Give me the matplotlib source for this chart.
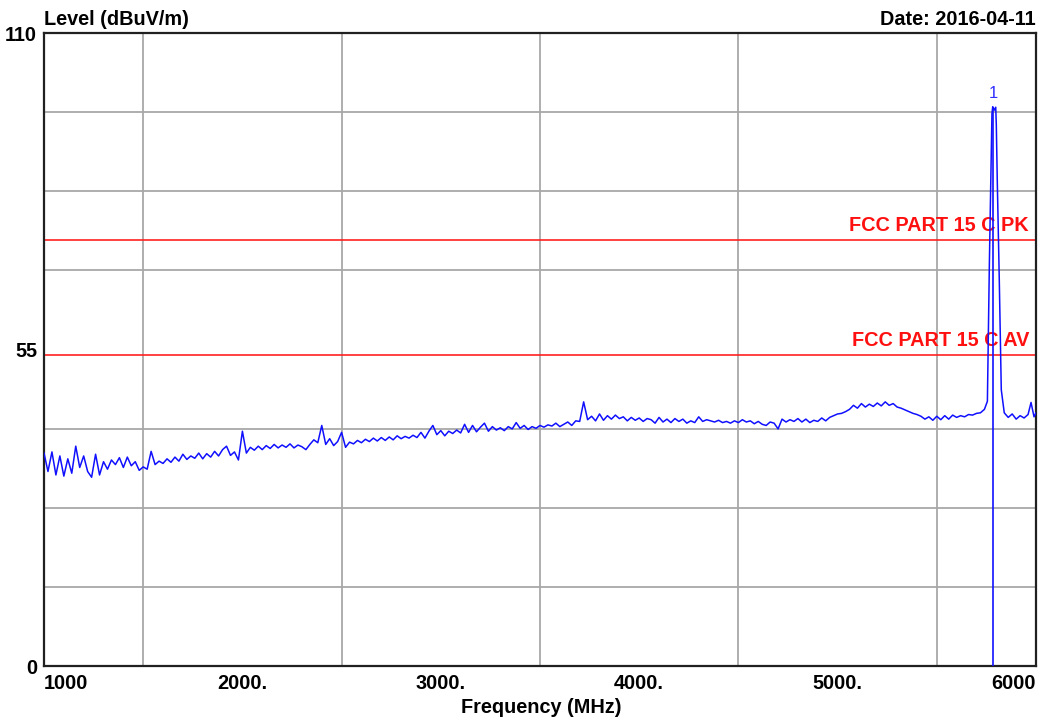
import numpy as np
import matplotlib
matplotlib.use("Agg")
import matplotlib.pyplot as plt

plt.rcParams['font.family'] = ['Liberation Sans', 'DejaVu Sans']

# ---- data ----
noise_f1 = list(range(1000, 5741, 20))
noise_l1 = [
    37.0, 33.8, 37.2, 33.2, 36.5, 33.0, 36.0, 33.5, 38.2, 34.5,
    36.5, 33.8, 32.8, 36.8, 33.2, 35.5, 34.2, 35.8, 35.0, 36.2,
    34.5, 36.3, 34.8, 35.5, 34.0, 34.6,
    34.2, 37.3, 35.0, 35.6, 35.2, 36.0, 35.4, 36.3, 35.6, 36.8,
    35.9, 36.5, 36.1, 37.0, 36.0, 36.9, 36.3, 37.3, 36.5, 37.6,
    38.2, 36.6, 37.2, 35.8, 40.8,
    37.0, 38.0, 37.5, 38.2, 37.6, 38.3, 37.8, 38.5, 37.9, 38.4,
    38.0, 38.6, 37.9, 38.4, 38.1, 37.6, 38.5, 39.3, 38.8, 41.8,
    38.5, 39.5, 38.3, 39.0, 40.6,
    38.0, 38.9, 38.6, 39.2, 38.8, 39.4, 39.0, 39.6, 39.1, 39.7,
    39.2, 39.8, 39.3, 40.0, 39.5, 39.9, 39.6, 40.1, 39.7, 40.6,
    39.6, 40.8, 41.8, 40.2, 40.9,
    40.0, 40.8, 40.4, 41.0, 40.5, 42.0, 40.6, 41.8, 40.7, 41.5,
    42.2, 40.8, 41.6, 41.0, 41.4, 40.9, 41.6, 41.2, 42.3, 41.3,
    41.8, 41.1, 41.6, 41.3, 41.8,
    41.5, 41.9, 41.7, 42.2, 41.6, 42.0, 42.4, 41.8, 42.6, 42.5,
    45.9, 42.8, 43.4, 42.6, 43.8, 42.7, 43.5, 42.9, 43.6, 43.0,
    43.3, 42.6, 43.2, 42.7, 43.1,
    42.5, 43.0, 42.8, 42.2, 43.2, 42.4, 42.9, 42.3, 43.0, 42.5,
    42.9, 42.2, 42.6, 42.3, 43.3, 42.5, 42.8, 42.6, 42.4, 42.7,
    42.3, 42.5, 42.2, 42.6, 42.3,
    42.8, 42.4, 42.6, 42.1, 42.5, 42.0, 41.8, 42.4, 42.2, 41.2,
    42.9, 42.4, 42.8, 42.5, 43.0, 42.4, 42.9, 42.3, 42.7, 42.5,
    43.1, 42.6, 43.2, 43.5, 43.8,
    43.9, 44.2, 44.6, 45.3, 44.8, 45.6, 45.0, 45.5, 45.1, 45.7,
    45.2, 45.9, 45.3, 45.6, 45.0, 44.8, 44.5, 44.2, 43.9, 43.7,
    43.4, 42.9, 43.3, 42.7, 43.4,
    42.8, 43.5, 42.9, 43.6, 43.2, 43.5, 43.3, 43.7, 43.6, 43.9,
    44.0, 44.6,
]
peak_f = [5755, 5765, 5772, 5778, 5782, 5790, 5797, 5800, 5805, 5815, 5825,
          5840, 5860, 5880, 5900, 5920, 5940, 5960, 5975, 5990, 6000]
peak_l = [46.0, 70.0, 84.5, 96.0, 97.2, 96.6, 97.1, 94.0, 84.0, 67.0, 48.0,
          44.0, 43.2, 43.8, 42.9, 43.5, 43.1, 43.7, 45.8, 43.3, 44.0]

limit_pk = 74.0
limit_av = 54.0
marker_f = 5785.0
marker_l = 97.2

x_ticks = [1000, 2000, 3000, 4000, 5000, 6000]
x_ticklabels = ["1000", "2000.", "3000.", "4000.", "5000.", "6000"]
y_ticks = [0, 55, 110]
y_ticklabels = ["0", "55", "110"]

freq = np.array(noise_f1 + peak_f, dtype=float)
level = np.array(noise_l1 + peak_l, dtype=float)

FS = 14.3

# ---- figure ----
fig = plt.figure(figsize=(10.56, 7.2), dpi=100)
ax = fig.add_axes([44 / 1056, 54 / 720, 992 / 1056, 633 / 720])
ax.set_xlim(1000, 6000)
ax.set_ylim(0, 110)

ax.set_xticks(np.arange(1000, 6001, 500), minor=True)
ax.set_yticks(np.arange(0, 110.01, 13.75), minor=True)
ax.grid(True, which='minor', color='#a8a8a8', lw=1.3, zorder=0)
ax.set_xticks(x_ticks)
ax.set_yticks(y_ticks)
ax.tick_params(which='both', length=0)
ax.set_xticklabels(x_ticklabels, fontsize=FS, fontweight='bold')
ax.set_yticklabels(y_ticklabels, fontsize=FS, fontweight='bold')
xl = ax.get_xticklabels()
xl[0].set_ha('left')
xl[-1].set_ha('right')
ax.tick_params(axis='x', pad=6)
ax.tick_params(axis='y', pad=5)

for s in ax.spines.values():
    s.set_linewidth(1.6)
    s.set_color('#202020')

ax.axhline(limit_pk, color='#ff2020', lw=1.2, zorder=2)
ax.axhline(limit_av, color='#ff2020', lw=1.2, zorder=2)
ax.text(5965, limit_pk + 0.9, "FCC PART 15 C PK", color='#ff1010',
        fontsize=FS, fontweight='bold', ha='right', va='bottom', zorder=3)
ax.text(5965, limit_av + 0.9, "FCC PART 15 C AV", color='#ff1010',
        fontsize=FS, fontweight='bold', ha='right', va='bottom', zorder=3)

ax.plot(freq, level, color='#1010ff', lw=1.1, zorder=4)
ax.vlines(marker_f, 0, marker_l, color='#1010ff', lw=1.2, zorder=4)
ax.text(marker_f, marker_l + 1.0, "1", color='#3030ff', fontsize=12,
        ha='center', va='bottom', zorder=5)

fig.text(44 / 1056, 1 - 25 / 720, "Level (dBuV/m)", fontsize=FS,
         fontweight='bold', ha='left', va='baseline')
fig.text(1036 / 1056, 1 - 25 / 720, "Date: 2016-04-11", fontsize=FS,
         fontweight='bold', ha='right', va='baseline')
fig.text(541 / 1056, 1 - 713 / 720, "Frequency (MHz)", fontsize=FS,
         fontweight='bold', ha='center', va='baseline')

fig.savefig("out.png", dpi=100)
